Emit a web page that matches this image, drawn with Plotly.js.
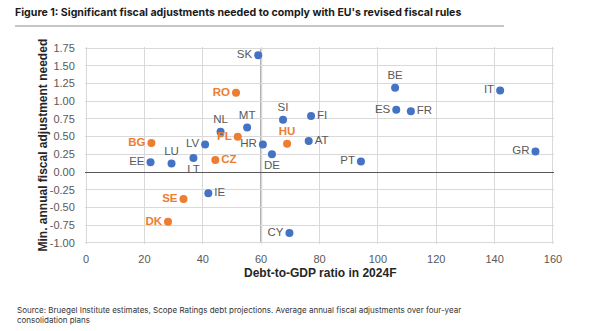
<!DOCTYPE html>
<html>
<head>
<meta charset="utf-8">
<script src="https://cdn.plot.ly/plotly-3.0.1.min.js"></script>
<style>html,body{margin:0;padding:0;background:#fff;}#chart{width:600px;height:331px;}</style>
</head>
<body>
<div id="chart"></div>
<script>
// Data
const countries = ['SK','RO','SI','FI','NL','MT','HU','AT','PL','BG','LV','HR','LU','EE','LT','CZ','DE','IE','SE','DK','CY','BE','IT','ES','FR','PT','GR'];
const debtRatio = [59.0, 51.4, 67.5, 77.1, 46.1, 55.2, 68.9, 76.3, 52.0, 22.4, 40.8, 60.6, 29.3, 22.1, 36.8, 44.3, 63.7, 41.9, 33.4, 28.1, 69.7, 105.9, 141.9, 106.3, 111.3, 94.2, 154.0];
const adjustment = [1.65, 1.12, 0.74, 0.79, 0.57, 0.63, 0.40, 0.44, 0.50, 0.41, 0.39, 0.39, 0.12, 0.14, 0.20, 0.17, 0.25, -0.30, -0.38, -0.70, -0.86, 1.19, 1.15, 0.88, 0.86, 0.15, 0.29];
const highlighted = [false, true, false, false, false, false, true, false, true, true, false, false, false, false, false, true, false, false, true, true, false, false, false, false, false, false, false];
const yTickVals = [-1, -0.75, -0.5, -0.25, 0, 0.25, 0.5, 0.75, 1, 1.25, 1.5, 1.75];
const yTickText = ['-1.00','-0.75','-0.50','-0.25','0.00','0.25','0.50','0.75','1.00','1.25','1.50','1.75'];
const xTickVals = [0, 20, 40, 60, 80, 100, 120, 140, 160];
const thresholdDebt = 60;
const xTitle = 'Debt-to-GDP ratio in 2024F';
const yTitle = 'Min. annual fiscal adjustment needed';

// Label placement (style)
const labelPos = {
  SK:'middle left', RO:'middle left', SI:'top center', FI:'middle right', NL:'top center',
  MT:'top center', HU:'top center', AT:'middle right', PL:'middle left', BG:'middle left',
  LV:'middle left', HR:'middle left', LU:'top center', EE:'middle left', LT:'bottom center',
  CZ:'middle right', DE:'bottom center', IE:'middle right', SE:'middle left', DK:'middle left',
  CY:'middle left', BE:'top center', IT:'middle left', ES:'middle left', FR:'middle right',
  PT:'middle left', GR:'middle left'
};

const BLUE = '#4472C4', ORANGE = '#ED7D31', GREY = '#595959';

function makeTrace(flag, color, textColor, bold) {
  const idx = countries.map((c,i)=>i).filter(i => highlighted[i] === flag);
  return {
    type: 'scatter',
    mode: 'markers+text',
    x: idx.map(i => debtRatio[i]),
    y: idx.map(i => adjustment[i]),
    text: idx.map(i => countries[i]),
    textposition: idx.map(i => labelPos[countries[i]]),
    textfont: {family: 'Liberation Sans, Arial, sans-serif', size: 11.5, color: textColor, weight: bold ? 'bold' : 'normal'},
    marker: {color: color, size: 8},
    hoverinfo: 'skip',
    cliponaxis: false,
    showlegend: false
  };
}

const traces = [
  makeTrace(false, BLUE, GREY, false),
  makeTrace(true, ORANGE, ORANGE, true)
];

const PL = 85, PW = 469, PB = 244, PH = 197;
const px = v => (v - PL) / PW;
const py = v => (PB - v) / PH;

const layout = {
  width: 600, height: 331,
  margin: {l: 85, r: 46, t: 47, b: 87},
  paper_bgcolor: '#ffffff', plot_bgcolor: '#ffffff',
  font: {family: 'Liberation Sans, Arial, sans-serif', color: GREY, size: 11},
  title: {
    text: "<b>Figure 1: Significant fiscal adjustments needed to comply with EU's revised fiscal rules</b>",
    x: 15/600, xanchor: 'left', xref: 'container',
    y: 1 - 12/331, yanchor: 'middle', yref: 'container',
    font: {family: 'Inter, sans-serif', size: 10.6, color: '#1a1a1a'}
  },
  xaxis: {
    range: [-0.35, 160.35], tickvals: xTickVals, showgrid: true, gridcolor: '#D9D9D9', gridwidth: 1,
    zeroline: false, showline: false, ticks: 'outside', ticklen: 5, tickcolor: 'rgba(0,0,0,0)',
    tickfont: {size: 11, color: GREY}
  },
  yaxis: {
    range: [-1.015, 1.765], tickvals: yTickVals, ticktext: yTickText, showgrid: true, gridcolor: '#D9D9D9', gridwidth: 1,
    zeroline: true, zerolinecolor: '#595959', zerolinewidth: 1, showline: false,
    ticks: 'outside', ticklen: 7, tickcolor: 'rgba(0,0,0,0)',
    tickfont: {size: 11, color: GREY}
  },
  shapes: [
    {type: 'line', xref: 'x', yref: 'y', x0: thresholdDebt, x1: thresholdDebt, y0: -1, y1: 1.75,
     line: {color: '#A6A6A6', width: 2}, layer: 'below'},
    {type: 'line', xref: 'paper', yref: 'paper', x0: px(15), x1: px(504), y0: py(26), y1: py(26),
     line: {color: '#8C8C8C', width: 1}}
  ],
  annotations: [
    {xref: 'paper', yref: 'paper', x: 0.5, y: py(273), xanchor: 'center', yanchor: 'middle',
     showarrow: false, text: '<b>' + xTitle + '</b>', font: {size: 12, color: '#262626'}},
    {xref: 'paper', yref: 'paper', x: px(42), y: 0.5, xanchor: 'center', yanchor: 'middle', textangle: -90,
     showarrow: false, text: '<b>' + yTitle + '</b>', font: {size: 12, color: '#262626'}},
    {xref: 'paper', yref: 'paper', x: px(15), y: py(315), xanchor: 'left', yanchor: 'middle', align: 'left',
     showarrow: false, text: 'Source: Bruegel Institute estimates, Scope Ratings debt projections. Average annual fiscal adjustments over four-year<br>consolidation plans',
     font: {family: 'Inter, sans-serif', size: 8, color: '#333333'}}
  ]
};

Plotly.newPlot('chart', traces, layout, {displayModeBar: false, staticPlot: true});
</script>
</body>
</html>
